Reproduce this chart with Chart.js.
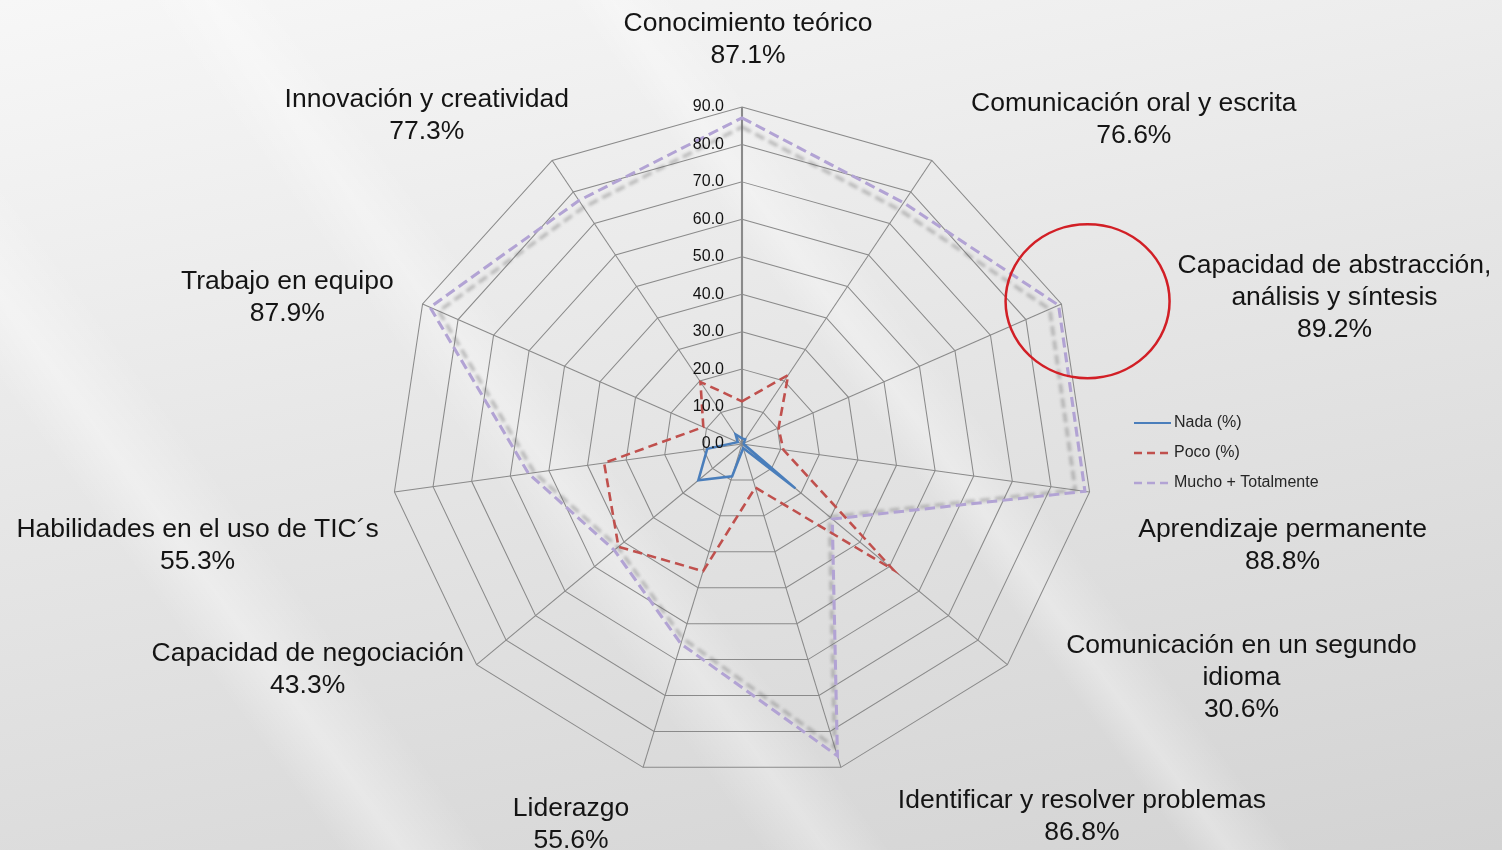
<!DOCTYPE html>
<html lang="es">
<head>
<meta charset="utf-8">
<title>Competencias</title>
<script src="https://cdn.jsdelivr.net/npm/chart.js@4.4.1/dist/chart.umd.min.js"></script>
<style>
  html, body {
    margin: 0;
    padding: 0;
  }
  body {
    width: 1502px;
    height: 850px;
    overflow: hidden;
    background:
      linear-gradient(54deg, rgba(255,255,255,0) 16%, rgba(255,255,255,0.35) 19%, rgba(255,255,255,0) 23%),
      linear-gradient(54deg, rgba(255,255,255,0) 36%, rgba(255,255,255,0.3) 39%, rgba(255,255,255,0) 42%),
      linear-gradient(54deg, rgba(255,255,255,0) 56%, rgba(255,255,255,0.3) 58%, rgba(255,255,255,0) 61%),
      linear-gradient(168deg, #f7f7f7 0%, #e6e6e6 45%, #d3d3d3 100%);
  }
  .chart-container {
    position: relative;
    width: 1502px;
    height: 850px;
  }
</style>
</head>
<body>
<div class="chart-container">
  <canvas id="radarChart" width="1502" height="850"></canvas>
</div>
<script>
// Axis names (line breaks as shown under each spoke)
const axisNames = [
  ['Conocimiento teórico'],
  ['Comunicación oral y escrita'],
  ['Capacidad de abstracción,', 'análisis y síntesis'],
  ['Aprendizaje permanente'],
  ['Comunicación en un segundo', 'idioma'],
  ['Identificar y resolver problemas'],
  ['Liderazgo'],
  ['Capacidad de negociación'],
  ['Habilidades en el uso de TIC´s'],
  ['Trabajo en equipo'],
  ['Innovación y creatividad']
];

const seriesNames = ['Nada (%)', 'Poco (%)', 'Mucho + Totalmente'];

const nada  = [1.5, 1.5, 0.5, 0.5, 18.1, 1.1, 9.0, 14.8, 9.0, 1.2, 3.0];
const poco  = [11.4, 21.9, 10.3, 10.7, 51.3, 12.1, 35.4, 41.9, 35.7, 10.9, 19.7];
const mucho = [87.1, 76.6, 89.2, 88.8, 30.6, 86.8, 55.6, 43.3, 55.3, 87.9, 77.3];

const scaleTicks = [0, 10, 20, 30, 40, 50, 60, 70, 80, 90];

const FONT = "'Liberation Sans', Arial, sans-serif";
const STRETCH_X = 1.042;   // plot is drawn a little wider than tall
const HIGHLIGHT = 2;       // spoke circled in red
const LINE_H = 32;

// hand tweaks so the spoke labels sit like the slide's text boxes
const labelNudge = [
  [6, 3], [28, 3], [0, -4], [28, 46], [43, -32], [51, -1],
  [-8, 7], [3, -29], [5, 46], [-10, 15], [28, -1]
];

document.addEventListener('DOMContentLoaded', () => {
  const ctx = document.getElementById('radarChart').getContext('2d');

  // each spoke label carries the "Mucho + Totalmente" share underneath
  const labels = axisNames.map((name, i) => [...name, mucho[i].toFixed(1) + '%']);

  const toScreen = (scale, p) => ({
    x: scale.xCenter + (p.x - scale.xCenter) * STRETCH_X,
    y: p.y
  });

  // widen grid + lines horizontally, and put a soft shadow under the top series
  const stretchPlot = {
    id: 'stretchPlot',
    beforeDraw(chart) {
      const c = chart.ctx;
      const s = chart.scales.r;
      c.save();
      c.translate(s.xCenter, 0);
      c.scale(STRETCH_X, 1);
      c.translate(-s.xCenter, 0);
    },
    beforeDatasetDraw(chart, args) {
      if (args.index !== 2) return;
      const c = chart.ctx;
      const s = chart.scales.r;
      const pts = args.meta.data;
      c.save();
      c.translate(s.xCenter, s.yCenter);
      c.scale(0.972, 0.972);
      c.translate(-s.xCenter, -s.yCenter);
      c.filter = 'blur(1.5px)';
      c.strokeStyle = 'rgba(100,100,100,0.38)';
      c.lineWidth = 3.5;
      c.setLineDash([10, 5]);
      c.beginPath();
      pts.forEach((p, i) => (i ? c.lineTo(p.x, p.y) : c.moveTo(p.x, p.y)));
      c.closePath();
      c.stroke();
      c.restore();
    },
    afterDatasetsDraw(chart) {
      chart.ctx.restore();
    }
  };

  // tick values, red ring, spoke labels and legend
  const overlay = {
    id: 'overlay',
    afterDraw(chart) {
      const c = chart.ctx;
      const s = chart.scales.r;
      c.save();

      c.fillStyle = '#111';
      c.font = `16px ${FONT}`;
      c.textAlign = 'right';
      c.textBaseline = 'middle';
      s.ticks.forEach(t => {
        c.fillText(t.label, s.xCenter - 18, s.yCenter - s.getDistanceFromCenterForValue(t.value));
      });

      const pt = toScreen(s, chart.getDatasetMeta(2).data[HIGHLIGHT]);
      const ring = { x: pt.x + 29, y: pt.y - 4, rx: 82, ry: 77 };
      c.strokeStyle = '#d21f26';
      c.lineWidth = 2.5;
      c.beginPath();
      c.ellipse(ring.x, ring.y, ring.rx, ring.ry, 0, 0, Math.PI * 2);
      c.stroke();

      c.font = `26.5px ${FONT}`;
      c.textAlign = 'center';
      c.fillStyle = '#141414';
      chart.data.labels.forEach((lines, i) => {
        const a = s.getIndexAngle(i);
        const sin = Math.sin(a);
        const cos = Math.cos(a);
        const centred = Math.abs(sin) < 0.05;
        const p = toScreen(s, s.getPointPosition(i, s.drawingArea + (centred ? 38 : 20)));
        const w = Math.max(...lines.map(l => c.measureText(l).width));
        const h = lines.length * LINE_H;
        let left = centred ? p.x - w / 2 : (sin > 0 ? p.x : p.x - w);
        let cy = p.y - cos * h / 2;
        if (i === HIGHLIGHT) {
          // pushed out past the ring
          left = ring.x + ring.rx + 8;
          cy = ring.y;
        }
        left += labelNudge[i][0];
        cy += labelNudge[i][1];
        lines.forEach((l, k) => {
          c.fillText(l, left + w / 2, cy - h / 2 + LINE_H * (k + 0.5));
        });
      });

      // legend
      const lx = s.xCenter + 392;
      const ly = s.yCenter - 21;
      c.font = `16px ${FONT}`;
      c.textAlign = 'left';
      c.fillStyle = '#262626';
      chart.data.datasets.forEach((ds, i) => {
        const y = ly + i * 30;
        c.strokeStyle = ds.borderColor;
        c.lineWidth = i === 0 ? 2 : 2.5;
        c.setLineDash(i === 0 ? [] : [8, 5]);
        c.beginPath();
        c.moveTo(lx, y);
        c.lineTo(lx + 37, y);
        c.stroke();
        c.fillText(ds.label, lx + 40, y);
      });

      c.restore();
    }
  };

  new Chart(ctx, {
    type: 'radar',
    data: {
      labels: labels,
      datasets: [
        {
          label: seriesNames[0],
          data: nada,
          borderColor: '#4a7ebb',
          borderWidth: 2.5,
          fill: false,
          pointRadius: 0,
          clip: false
        },
        {
          label: seriesNames[1],
          data: poco,
          borderColor: '#c0504d',
          borderWidth: 2.5,
          borderDash: [9, 5],
          fill: false,
          pointRadius: 0,
          clip: false
        },
        {
          label: seriesNames[2],
          data: mucho,
          borderColor: '#b2a3d4',
          borderWidth: 3,
          borderDash: [10, 5],
          fill: false,
          pointRadius: 0,
          clip: false
        }
      ]
    },
    options: {
      responsive: false,
      animation: false,
      devicePixelRatio: 1,
      layout: {
        padding: { top: 107, bottom: 69, left: 392, right: 410 }
      },
      plugins: {
        legend: { display: false },
        tooltip: { enabled: false }
      },
      scales: {
        r: {
          min: 0,
          max: 90,
          afterBuildTicks: scale => {
            scale.ticks = scaleTicks.map(v => ({ value: v }));
          },
          ticks: {
            display: false,
            callback: v => v.toFixed(1)
          },
          pointLabels: { display: false },
          grid: { color: '#8a8a8a', lineWidth: 1 },
          angleLines: {
            color: '#8a8a8a',
            lineWidth: c => (c.index === 0 ? 2 : 1)
          }
        }
      }
    },
    plugins: [stretchPlot, overlay]
  });
});
</script>
</body>
</html>
